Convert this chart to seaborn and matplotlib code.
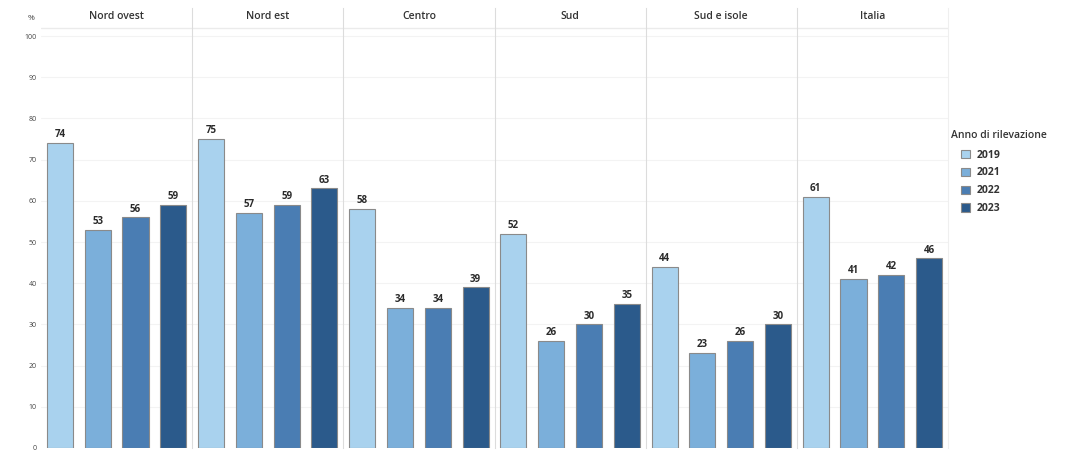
import pandas as pd
import numpy as np
import seaborn as sns
import matplotlib.pyplot as plt
from matplotlib.patches import Patch

# Data
regioni = ['Nord ovest', 'Nord est', 'Centro', 'Sud', 'Sud e isole', 'Italia']
anni = ['2019', '2021', '2022', '2023']
val_2019 = [74, 75, 58, 52, 44, 61]
val_2021 = [53, 57, 34, 26, 23, 41]
val_2022 = [56, 59, 34, 30, 26, 42]
val_2023 = [59, 63, 39, 35, 30, 46]
y_ticks = [0, 10, 20, 30, 40, 50, 60, 70, 80, 90, 100]

colori = ['#a9d2ee', '#7bafda', '#4a7db3', '#2b5a8b']

rows = []
for i, r in enumerate(regioni):
    for a, serie in zip(anni, [val_2019, val_2021, val_2022, val_2023]):
        rows.append({'Regione': r, 'Anno': a, 'Valore': serie[i]})
df = pd.DataFrame(rows)

sns.set_theme(style='white')
plt.rcParams['font.family'] = ['Open Sans', 'DejaVu Sans']

W, H = 1071, 453
fig = plt.figure(figsize=(W / 100, H / 100), dpi=100)

left_px, right_px = 41, 948
top_px, bottom_px = 8, 448
pw = (right_px - left_px) / len(regioni)
# 0 at y=448, 100 at y=36
ppu = (bottom_px - 36) / 100
ytop = (bottom_px - top_px) / ppu
header_y = (bottom_px - 28) / ppu

grid_c = '#ebebeb'
sep_c = '#dcdcdc'

for i, r in enumerate(regioni):
    ax = fig.add_axes([(left_px + i * pw) / W, 1 - bottom_px / H, pw / W, (bottom_px - top_px) / H])
    sub = df[df['Regione'] == r]
    sns.barplot(data=sub, x='Anno', y='Valore', hue='Anno', order=anni, hue_order=anni,
                palette=colori, saturation=1, dodge=False, legend=False, width=0.69,
                edgecolor='#8a8a8a', linewidth=0.8, ax=ax)
    for c in ax.containers:
        ax.bar_label(c, fmt='%d', padding=2, fontsize=7, fontweight='bold', color='#2a2a2a')
    ax.set_ylim(0, ytop)
    ax.set_xlim(-0.5, 3.5)
    for t in y_ticks[1:]:
        ax.axhline(t, color='#f3f3f3', lw=0.8, zorder=0)
    ax.axhline(header_y, color=grid_c, lw=1.0, zorder=0)
    # region header
    ax.text(1.5, (header_y + ytop) / 2 + 0.3, r, ha='center', va='center',
            fontsize=7.5, fontweight='semibold', color='#333333')
    ax.set_xlabel('')
    ax.set_ylabel('')
    ax.set_xticks([])
    for s in ['top', 'bottom', 'right']:
        ax.spines[s].set_visible(False)
    ax.spines['left'].set_color(sep_c)
    ax.spines['left'].set_linewidth(0.8)
    if i == 0:
        ax.set_yticks(y_ticks)
        ax.set_yticklabels([str(t) for t in y_ticks], fontsize=5, color='#444444')
        ax.tick_params(axis='y', length=0, pad=3)
        ax.spines['left'].set_visible(False)
    else:
        ax.set_yticks([])
    if i == len(regioni) - 1:
        ax.spines['right'].set_visible(True)
        ax.spines['right'].set_color('#efefef')
        ax.spines['right'].set_linewidth(0.8)

fig.text(31 / W, 1 - 18 / H, '%', ha='center', va='center', fontsize=6, color='#444444')

# legend title drawn separately so the entries can sit indented under it
fig.text(951 / W, 1 - 136 / H, 'Anno di rilevazione', ha='left', va='center',
         fontsize=7.5, fontweight='semibold', color='#333333')
handles = [Patch(facecolor=c, edgecolor='#8a8a8a', linewidth=0.8, label=a) for a, c in zip(anni, colori)]
leg = fig.legend(handles=handles, loc='upper left',
                 bbox_to_anchor=(960 / W, 1 - 148.5 / H), frameon=False, fontsize=7.5,
                 handlelength=0.85, handleheight=0.85,
                 labelspacing=0.66, handletextpad=0.6, borderaxespad=0, borderpad=0.1)
for t in leg.get_texts():
    t.set_fontweight('bold')
    t.set_color('#333333')

fig.savefig('out.png', dpi=100)
